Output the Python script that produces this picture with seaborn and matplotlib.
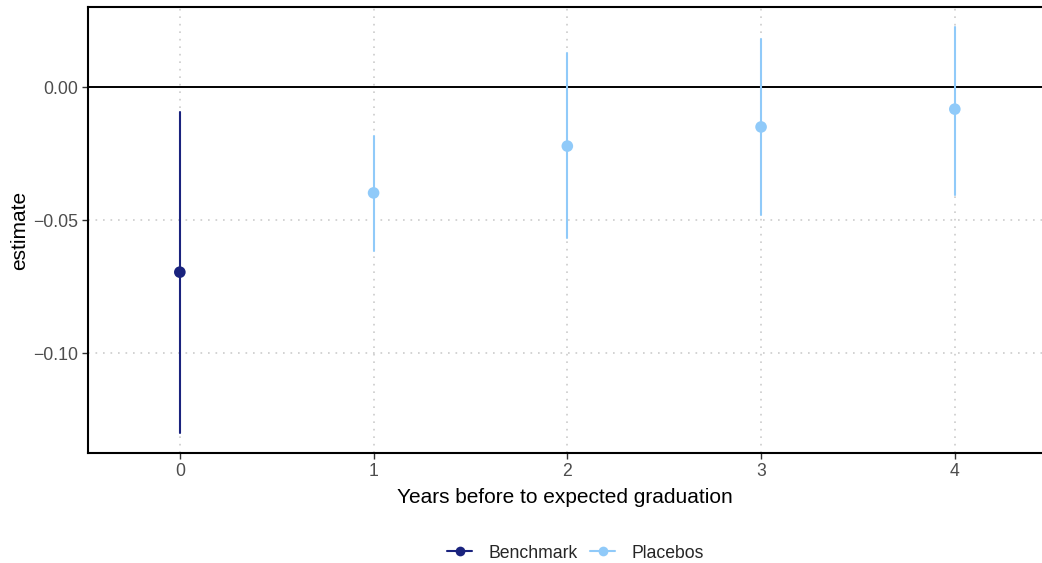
import matplotlib
matplotlib.use("Agg")
import matplotlib.pyplot as plt
from matplotlib.lines import Line2D
import seaborn as sns
import pandas as pd

years = [0, 1, 2, 3, 4]
groups = ["Benchmark", "Placebos", "Placebos", "Placebos", "Placebos"]
estimate = [-0.0696, -0.0398, -0.0222, -0.0150, -0.0083]
ci_low = [-0.1300, -0.0617, -0.0568, -0.0481, -0.0406]
ci_high = [-0.0094, -0.0184, 0.0128, 0.0180, 0.0226]
y_ticks = [0.00, -0.05, -0.10]
y_tick_labels = ["0.00", "\u22120.05", "\u22120.10"]

palette = {"Benchmark": "#1A237E", "Placebos": "#90CAF9"}

df = pd.DataFrame({"year": years, "group": groups, "estimate": estimate,
                   "lo": ci_low, "hi": ci_high})
seg = pd.concat([
    df[["year", "group"]].assign(val=df["lo"]),
    df[["year", "group"]].assign(val=df["hi"]),
], ignore_index=True)

sns.set_theme(style="white")
plt.rcParams["font.family"] = ["Liberation Sans", "DejaVu Sans"]

fig = plt.figure(figsize=(10.42, 5.63), dpi=100)
ax = fig.add_axes([88 / 1042, 110 / 563, 1 - 88 / 1042, 446 / 563])

# grid
for x in years:
    ax.axvline(x, color="#cccccc", lw=1.2, ls=(0, (1, 3.5)), zorder=0)
for y in [-0.05, -0.10]:
    ax.axhline(y, color="#cccccc", lw=1.2, ls=(0, (1, 3.5)), zorder=0)
ax.axhline(0, color="black", lw=1.4, zorder=1)

sns.lineplot(data=seg, x="year", y="val", hue="group", units="year",
             estimator=None, palette=palette, lw=1.5, legend=False, ax=ax,
             zorder=2)
sns.scatterplot(data=df, x="year", y="estimate", hue="group", palette=palette,
                s=70, edgecolor="none", legend=False, ax=ax, zorder=3)

ax.set_xlim(-0.474, 4.45)
ax.set_ylim(-0.1376, 0.0301)
ax.set_xticks(years)
ax.set_xticklabels([str(v) for v in years])
ax.set_yticks(y_ticks)
ax.set_yticklabels(y_tick_labels)
ax.tick_params(axis="both", colors="#333333", labelcolor="#4d4d4d",
               labelsize=12.7, length=4, width=1, direction="out",
               bottom=True, left=True, pad=3)
ax.set_xlabel("Years before to expected graduation", fontsize=15, color="black",
              labelpad=6)
ax.set_ylabel("estimate", fontsize=15, color="black", labelpad=3)

for side in ["left", "bottom", "top"]:
    ax.spines[side].set_visible(True)
    ax.spines[side].set_color("black")
    ax.spines[side].set_linewidth(1.5)
ax.spines["right"].set_visible(False)

handles = [Line2D([0], [0], color=palette[g], lw=1.5, marker="o", markersize=7,
                  markeredgewidth=0) for g in ["Benchmark", "Placebos"]]
fig.legend(handles, ["Benchmark", "Placebos"], loc="center",
           bbox_to_anchor=(0.552, 1 - 553 / 563), ncol=2, frameon=False,
           fontsize=12.7, handlelength=1.45, handletextpad=0.9, columnspacing=0.7)

fig.savefig("out.png", dpi=100)
